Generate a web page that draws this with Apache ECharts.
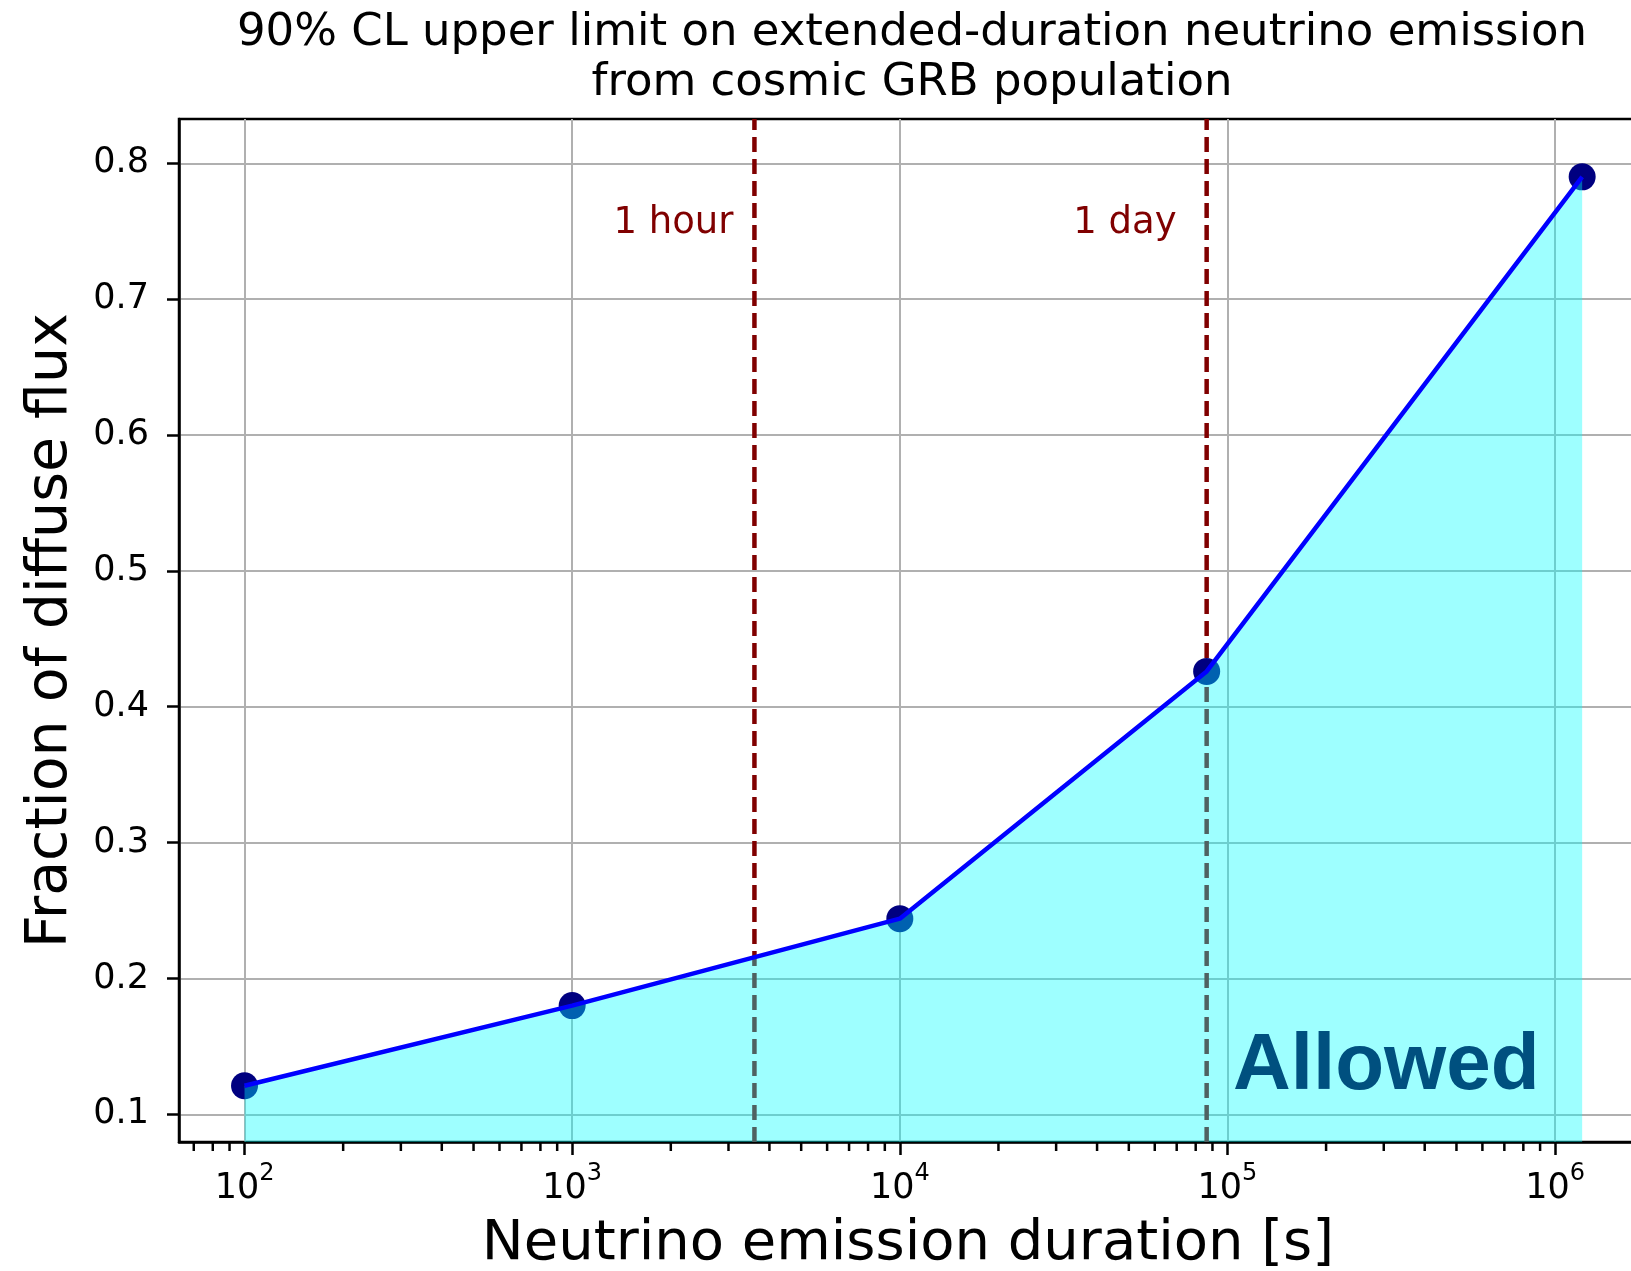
<!DOCTYPE html>
<html lang="en">

<head>
    <meta charset="UTF-8">
    <title>GRB neutrino emission upper limit</title>
    <script src="https://cdn.jsdelivr.net/npm/echarts@6/dist/echarts.min.js"></script>
    <style>
        body,
        html {
            margin: 0;
            padding: 0;
            height: 100%;
            background: #fff;
        }

        #main {
            width: 1631px;
            height: 1271px;
        }
    </style>
</head>

<body>
    <div id="main"></div>
    <script>
        // emission durations [s] and the 90% CL limit on the diffuse flux fraction
        var durations = [100, 1000, 10000, 86400, 1209600];
        var fractions = [0.121, 0.180, 0.244, 0.426, 0.790];

        // reference durations drawn as dashed lines
        var refDurations = [3600, 86400];
        var refLabels = ['1 hour', '1 day'];
        var refLabelY = 0.756;

        var xTicks = [1e2, 1e3, 1e4, 1e5, 1e6];
        var yTicks = [0.1, 0.2, 0.3, 0.4, 0.5, 0.6, 0.7, 0.8];

        var xMin = Math.pow(10, 1.8);
        var xMax = Math.pow(10, 6.25);
        var yMin = 0.0796;
        var yMax = 0.8326;

        // log minor ticks 2..9 in every decade inside the axis range
        var minorTicks = [];
        for (var d = 1; d <= 6; d++) {
            for (var m = 2; m <= 9; m++) {
                var v = m * Math.pow(10, d);
                if (v > xMin && v < xMax) minorTicks.push(v);
            }
        }

        var font = 'DejaVu Sans';
        var darkRed = '#800000';

        var series = [];

        // dashed vertical lines (under the fill, so they turn grey inside it)
        for (var i = 0; i < refDurations.length; i++) {
            series.push({
                type: 'line',
                z: 2,
                silent: true,
                showSymbol: false,
                data: [[refDurations[i], yMin], [refDurations[i], yMax]],
                lineStyle: { color: darkRed, width: 4.5, type: [15, 7] }
            });
            series.push({
                type: 'scatter',
                z: 5,
                silent: true,
                symbolSize: 0,
                itemStyle: { opacity: 1 },
                data: [[refDurations[i], refLabelY]],
                label: {
                    show: true,
                    position: 'left',
                    distance: i === 0 ? 21 : 30,
                    formatter: refLabels[i],
                    color: darkRed,
                    fontFamily: font,
                    fontSize: 37
                }
            });
        }

        // the measured points, also under the fill
        series.push({
            type: 'scatter',
            z: 2,
            symbol: 'circle',
            symbolSize: 27,
            itemStyle: { color: '#000080', opacity: 1 },
            data: durations.map(function (t, k) { return [t, fractions[k]]; })
        });

        // filled region + limit line
        series.push({
            type: 'line',
            z: 4,
            showSymbol: false,
            data: durations.map(function (t, k) { return [t, fractions[k]]; }),
            lineStyle: { color: '#0000ff', width: 4.5 },
            areaStyle: { color: '#00ffff', opacity: 0.38, origin: 'start' }
        });

        // minor ticks on the log x axis
        series.push({
            type: 'custom',
            z: 6,
            silent: true,
            clip: false,
            data: minorTicks.map(function (t) { return [t, yMin]; }),
            renderItem: function (params, api) {
                var p = api.coord([api.value(0), api.value(1)]);
                return {
                    type: 'line',
                    shape: { x1: p[0], y1: p[1], x2: p[0], y2: p[1] + 9 },
                    style: { stroke: '#000', lineWidth: 2.5 }
                };
            }
        });

        var myChart = echarts.init(document.getElementById('main'), null, { renderer: 'canvas' });
        var option = {
            animation: false,
            backgroundColor: '#fff',
            title: {
                text: '90% CL upper limit on extended-duration neutrino emission\nfrom cosmic GRB population',
                left: 907,
                top: 3,
                textAlign: 'center',
                textStyle: {
                    fontFamily: font,
                    fontSize: 45,
                    fontWeight: 'normal',
                    color: '#000',
                    lineHeight: 50
                }
            },
            grid: {
                left: 179,
                top: 119,
                right: -6,
                bottom: 129,
                outerBoundsMode: 'none',
                containLabel: false,
                show: true,
                borderColor: '#000',
                borderWidth: 2.5,
                backgroundColor: 'transparent'
            },
            xAxis: {
                type: 'log',
                logBase: 10,
                min: xMin,
                max: xMax,
                name: 'Neutrino emission duration [s]',
                nameLocation: 'middle',
                nameGap: 74,
                nameTextStyle: { fontFamily: font, fontSize: 56, color: '#000' },
                axisLine: { show: true, onZero: false, lineStyle: { color: '#000', width: 2.5 } },
                axisTick: {
                    show: true, inside: false, length: 13, customValues: xTicks,
                    lineStyle: { color: '#000', width: 2.5 }
                },
                axisLabel: {
                    customValues: xTicks,
                    margin: 20,
                    color: '#000',
                    formatter: function (v) {
                        return '{b|10}{s|' + Math.round(Math.log10(v)) + '}';
                    },
                    rich: {
                        b: { fontFamily: font, fontSize: 35, color: '#000', lineHeight: 44, verticalAlign: 'bottom' },
                        s: { fontFamily: font, fontSize: 24, color: '#000', lineHeight: 44, verticalAlign: 'top' }
                    }
                },
                splitLine: { show: true, lineStyle: { color: '#b0b0b0', width: 2 } },
                minorTick: { show: false },
                minorSplitLine: { show: false }
            },
            yAxis: {
                type: 'value',
                min: yMin,
                max: yMax,
                name: 'Fraction of diffuse flux',
                nameLocation: 'middle',
                nameGap: 99,
                nameTextStyle: { fontFamily: font, fontSize: 57, color: '#000' },
                axisLine: { show: true, lineStyle: { color: '#000', width: 2.5 } },
                axisTick: {
                    show: true, inside: false, length: 12, customValues: yTicks,
                    lineStyle: { color: '#000', width: 2.5 }
                },
                axisLabel: {
                    customValues: yTicks,
                    margin: 30,
                    color: '#000',
                    fontFamily: font,
                    fontSize: 35,
                    formatter: function (v) { return v.toFixed(1); }
                },
                splitLine: { show: true, lineStyle: { color: '#b0b0b0', width: 2 } }
            },
            graphic: [{
                type: 'text',
                z: 100,
                silent: true,
                x: 1233,
                y: 1067,
                style: {
                    text: 'Allowed',
                    font: 'bold 80px "Liberation Sans", Arial, sans-serif',
                    fill: '#00507f',
                    verticalAlign: 'middle',
                    align: 'left'
                }
            }],
            series: series
        };
        myChart.setOption(option);
    </script>
</body>

</html>
